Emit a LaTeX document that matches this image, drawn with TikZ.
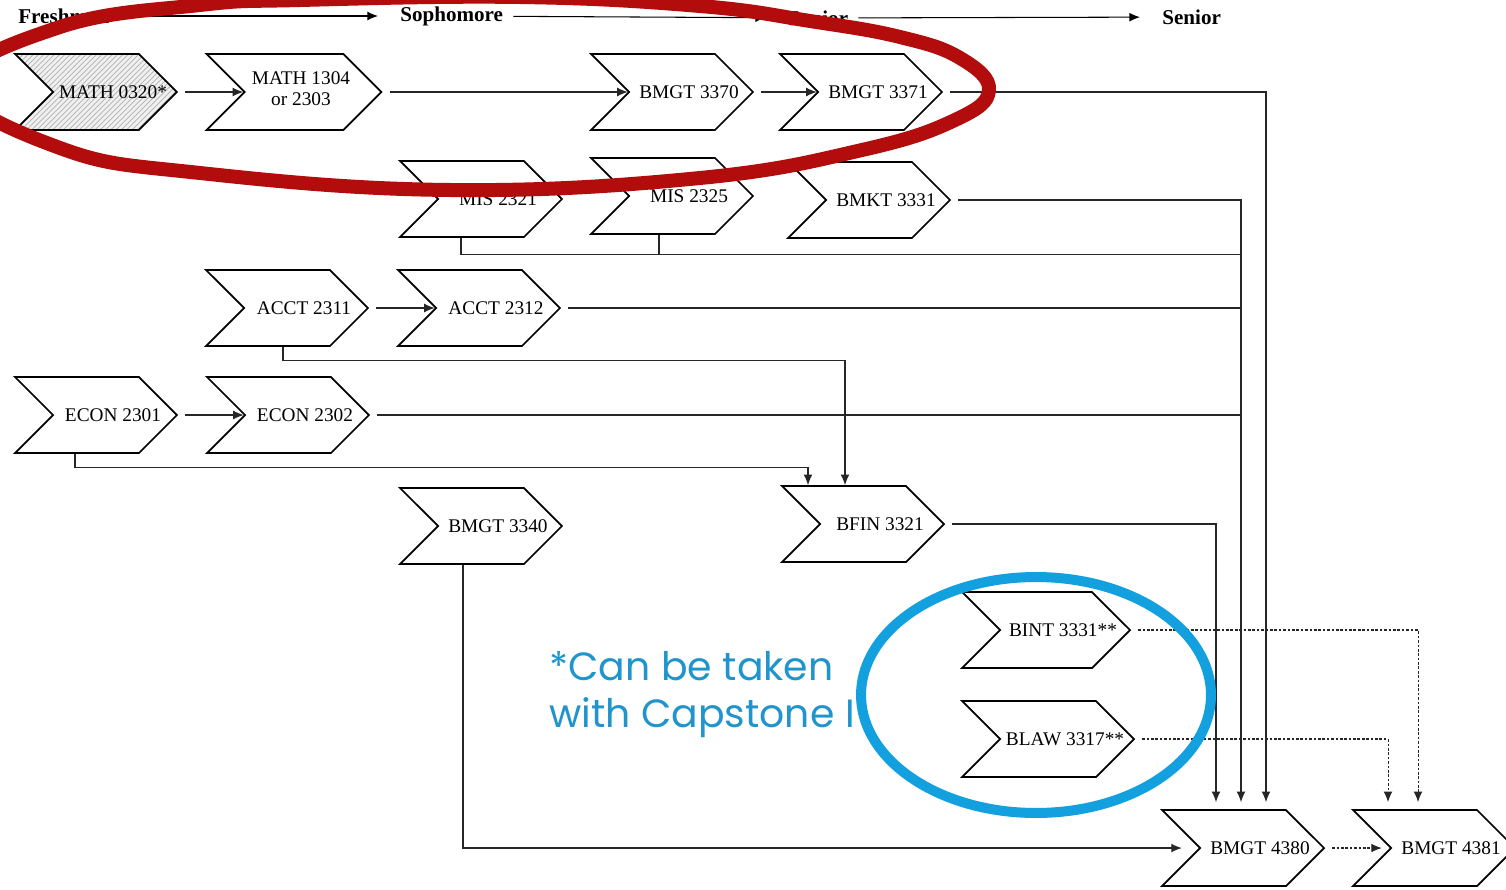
\documentclass[tikz,border=0pt]{standalone}
\usepackage{fontspec}
\setmainfont{Liberation Serif}
\newfontfamily\notefont{Poppins}
\usetikzlibrary{arrows.meta,calc,shapes.symbols,patterns}
\definecolor{circlered}{RGB}{178,12,12}
\definecolor{circleblue}{RGB}{18,160,222}
\definecolor{noteblue}{RGB}{32,148,204}

\begin{document}
\begin{tikzpicture}[
    x=0.02cm, y=-0.02cm,
    >={Latex[length=6pt,width=5pt]},
    font=\fontsize{11}{12}\selectfont,
    chevbox/.style={
        signal, signal to=east, signal from=west,
        draw=black, line width=1pt, fill=white,
        minimum width=3.24cm, minimum height=1.52cm,
        inner sep=0pt
    },
    chev/.style={chevbox, label={[lbl]center:#1}},
    lbl/.style={xshift=0.34cm, align=center, inner sep=0pt},
    hatch/.style={preaction={fill=gray!12}, pattern=north east lines, pattern color=gray!60},
    hdr/.style={font=\bfseries\fontsize{12}{14}\selectfont, inner sep=0pt},
    hdrarrow/.style={->, line width=0.6pt, shorten <=0.2cm, shorten >=0.44cm},
    link/.style={line width=0.6pt, draw=black!85},
    fromtip/.style={shorten <=0.14cm},
    dotlink/.style={link, dash pattern=on 1.5pt off 1pt},
    note/.style={font=\notefont\fontsize{22.4}{27}\selectfont, text=noteblue, align=left, inner sep=0pt}
]
\fill[white] (0,0) rectangle (1506,889);
\useasboundingbox (0,0) rectangle (1506,889);

% Jahrgaenge
\node[hdr, anchor=west] (fresh) at (18,16) {Freshman};
\node[hdr, anchor=west] (soph) at (400,16) {Sophomore};
\node[hdr, anchor=west] (jun) at (788,18) {Junior};
\node[hdr, anchor=west] (sen) at (1162,17) {Senior};
\draw[hdrarrow] (fresh) -- (soph);
\draw[hdrarrow] (soph) -- (jun);
\draw[hdrarrow] (jun) -- (sen);

% Kurse
\node[chev=MATH 0320*, hatch] (m0320) at (96,92) {};
\node[chevbox, minimum width=3.5cm,
      label={[lbl, xshift=-0.2cm, yshift=0.06cm]center:{MATH 1304\\or 2303}}] (m1304) at (294,92) {};
\node[chev=BMGT 3370] (g3370) at (672,92) {};
\node[chev=BMGT 3371] (g3371) at (861,92) {};

\node[chev=MIS 2321] (s2321) at (481,199) {};
\node[chev=MIS 2325] (s2325) at (672,196) {};
\node[chev=BMKT 3331] (k3331) at (869,200) {};

\node[chev=ACCT 2311] (a2311) at (287,308) {};
\node[chev=ACCT 2312] (a2312) at (479,308) {};

\node[chev=ECON 2301] (e2301) at (96,415) {};
\node[chev=ECON 2302] (e2302) at (288,415) {};

\node[chev=BMGT 3340] (g3340) at (481,526) {};
\node[chev=BFIN 3321] (f3321) at (863,524) {};

\node[chev=BINT 3331**, minimum width=3.36cm] (t3331) at (1046,630) {};
\node[chev=BLAW 3317**, minimum width=3.44cm] (w3317) at (1048,739) {};

\node[chev=BMGT 4380] (g4380) at (1243,848) {};
\node[chev=BMGT 4381] (g4381) at (1434,848) {};

% Sammelleitungen
\coordinate (busA) at ($(g4380.north)+(23,0)$);
\coordinate (busB) at ($(g4380.north)+(-2,0)$);
\coordinate (busC) at ($(g4380.north)+(-27,0)$);

% Voraussetzungen
\draw[link,->,fromtip] (m0320.east) -- (m1304.west);
\draw[link,->,fromtip] (m1304.east) -- (g3370.west);
\draw[link,->,fromtip] (g3370.east) -- (g3371.west);
\draw[link,->,fromtip,shorten >=0.14cm] (g3371.east) -| (busA);
\draw[link,->,fromtip,shorten >=0.14cm] (k3331.east) -| (busB);
\draw[link] ([xshift=-0.4cm]s2321.south) -- ++(0,17) coordinate (misjoin) -- (misjoin -| busB);
\draw[link] ([xshift=-0.26cm]s2325.south) -- ([xshift=-0.26cm]s2325.south |- misjoin);
\draw[link,->,fromtip] (a2311.east) -- (a2312.west);
\draw[link,fromtip] (a2312.east) -- (a2312.east -| busB);
\draw[link,->,fromtip] (e2301.east) -- (e2302.west);
\draw[link,fromtip] (e2302.east) -- (e2302.east -| busB);
\draw[link,->] ([xshift=-0.08cm]a2311.south) -- ++(0,14) -| ([xshift=-0.36cm]f3321.north);
\draw[link,->] ([xshift=-0.42cm]e2301.south) -- ++(0,14) -| ([xshift=-1.1cm]f3321.north);
\draw[link,->,fromtip,shorten >=0.14cm] (f3321.east) -| (busC);
\draw[link,->,shorten >=0.34cm] ([xshift=-0.36cm]g3340.south) |- (g4380.west);
\draw[dotlink,->,fromtip,shorten >=0.14cm] (t3331.east) -| ([xshift=-0.32cm]g4381.north);
\draw[dotlink,->,fromtip,shorten >=0.14cm] (w3317.east) -| ([xshift=-0.92cm]g4381.north);
\draw[dotlink,->,fromtip,shorten >=0.16cm] (g4380.east) -- (g4381.west);

% Markierungen
\draw[circlered, line width=0.28cm] plot[smooth cycle, tension=0.7] coordinates {(989,90) (960,58) (900,37) (810,21) (700,6) (520,-3) (300,0) (200,5) (60,27) (-40,85) (60,148) (200,173) (450,190) (700,178) (862,150) (955,120)};
\draw[circleblue, line width=0.2cm] (1036,695) ellipse [x radius=3.5cm, y radius=2.36cm];
\node[note, anchor=north west] (capnote) at (549,651) {*Can be taken\\with Capstone I};
\end{tikzpicture}
\end{document}
